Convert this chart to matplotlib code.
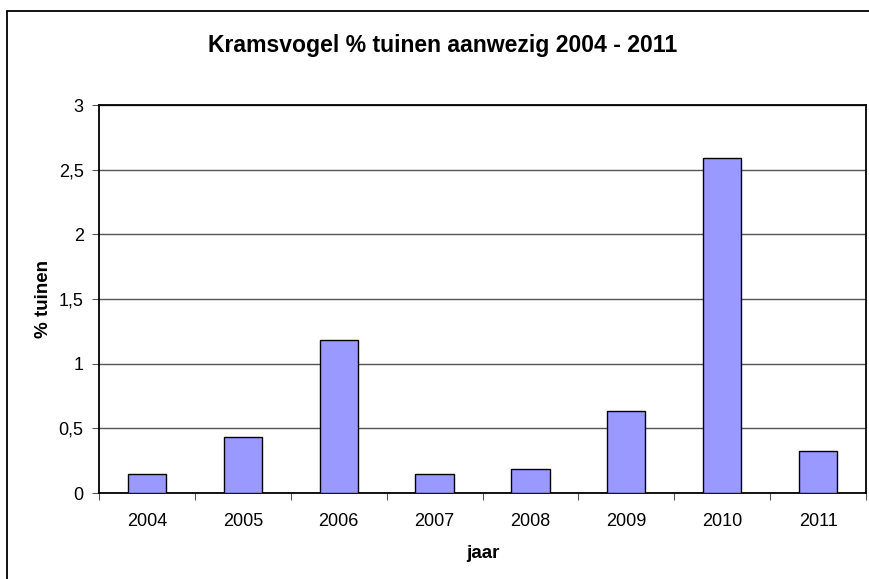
import matplotlib
matplotlib.use("Agg")
import matplotlib.pyplot as plt
from matplotlib.patches import Rectangle
from matplotlib.ticker import FuncFormatter

# waarden
jaren = ["2004", "2005", "2006", "2007", "2008", "2009", "2010", "2011"]
procent_tuinen = [0.145, 0.434, 1.18, 0.145, 0.188, 0.633, 2.59, 0.325]

plt.rcParams['font.family'] = ['Liberation Sans', 'DejaVu Sans']

fig = plt.figure(figsize=(8.69, 5.79), dpi=100)
ax = fig.add_axes([99 / 869, 86 / 579, 767 / 869, 388 / 579])

# rand om de hele grafiek (rechts en onder vallen buiten beeld)
fig.patches.append(Rectangle((7 / 869, -0.1), 1.2, 1 - 11 / 579 + 0.1,
                             transform=fig.transFigure, fill=False,
                             edgecolor="black", linewidth=1.3))

x = list(range(len(jaren)))
ax.bar(x, procent_tuinen, width=0.4, color="#9999FF", edgecolor="black",
       linewidth=1.0, zorder=3)

ax.set_xlim(-0.5, len(jaren) - 0.5)
ax.set_ylim(0, 3)
ax.set_yticks([0, 0.5, 1, 1.5, 2, 2.5, 3])
ax.yaxis.set_major_formatter(FuncFormatter(lambda v, p: ("%g" % v).replace(".", ",")))
ax.grid(axis="y", color="#555555", linewidth=1.0, zorder=0)

# tickjes op de grenzen tussen de jaren
ax.set_xticks([i - 0.5 for i in range(len(jaren) + 1)])
ax.set_xticklabels([])
ax.set_xticks(x, minor=True)
ax.set_xticklabels(jaren, minor=True, fontsize=13)
ax.tick_params(axis="x", which="minor", length=0, pad=14.5)
ax.tick_params(axis="x", which="major", length=5, color="#555555")
ax.tick_params(axis="y", labelsize=13, length=5, color="#555555", pad=6)

for s in ax.spines.values():
    s.set_linewidth(1.3)
    s.set_color("black")

# titel staat midden boven de hele grafiek, niet boven het plotvlak
fig.text(443 / 869, 1 - 52 / 579, "Kramsvogel % tuinen aanwezig 2004 - 2011",
         fontsize=16.6, fontweight="bold", ha="center", va="baseline")
ax.set_xlabel("jaar", fontsize=13.5, fontweight="bold", labelpad=11)
ax.set_ylabel("% tuinen", fontsize=13.5, fontweight="bold", labelpad=5)

fig.savefig("out.png", dpi=100)
